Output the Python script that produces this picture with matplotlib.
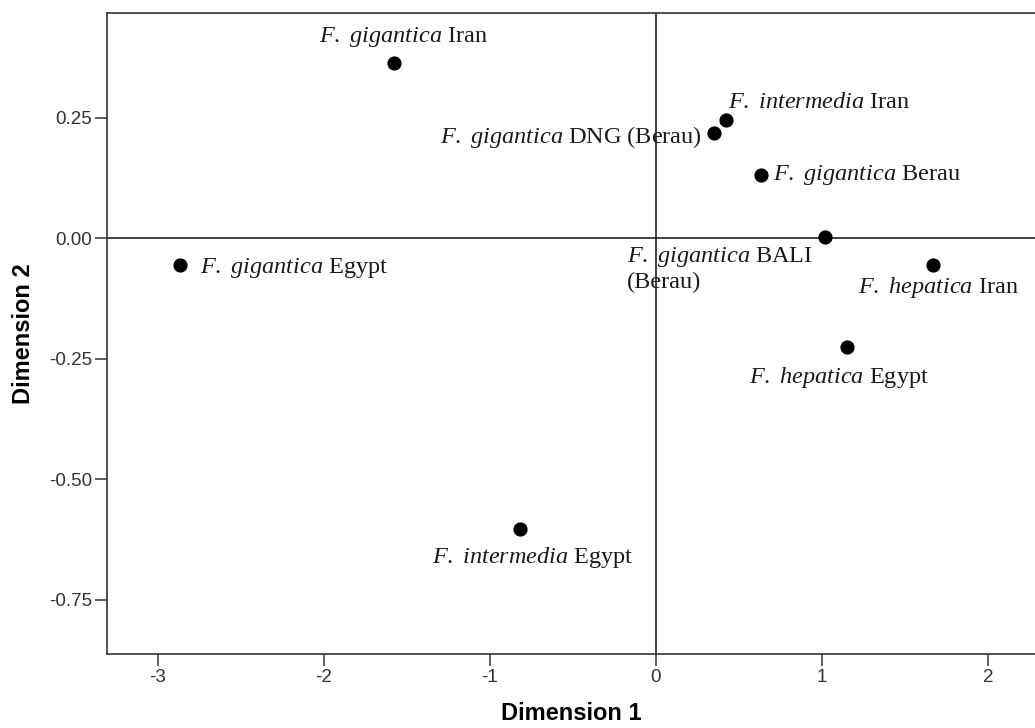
import matplotlib.pyplot as plt

plt.rcParams['mathtext.fontset'] = 'custom'
plt.rcParams['mathtext.rm'] = 'Liberation Serif'
plt.rcParams['mathtext.it'] = 'Liberation Serif:italic'

# MDS coordinates
labels = [
    r"$F.$ $gigantica$ Iran",
    r"$F.$ $intermedia$ Iran",
    r"$F.$ $gigantica$ DNG (Berau)",
    r"$F.$ $gigantica$ Berau",
    "$F.$ $gigantica$ BALI\n(Berau)",
    r"$F.$ $hepatica$ Iran",
    r"$F.$ $hepatica$ Egypt",
    r"$F.$ $gigantica$ Egypt",
    r"$F.$ $intermedia$ Egypt",
]
dim1 = [-1.58, 0.42, 0.35, 0.63, 1.02, 1.67, 1.15, -2.87, -0.82]
dim2 = [0.363, 0.245, 0.218, 0.131, 0.002, -0.056, -0.226, -0.056, -0.604]

# label placement (pixel offsets from the point, alignment)
offsets = [(10, 26), (2, 18), (-12, -4), (12, 0), (-198, -32),
           (-75, -22), (-8, -30), (20, -3), (13, -28)]
aligns = ['center', 'left', 'right', 'left', 'left',
          'left', 'center', 'left', 'center']

fig = plt.figure(figsize=(10.35, 7.28), dpi=100)
ax = fig.add_axes([0.1034, 0.1016, 0.8976, 0.8805])

ax.axhline(0, color='#222222', lw=1.2, zorder=1)
ax.axvline(0, color='#222222', lw=1.2, zorder=1)
ax.scatter(dim1, dim2, s=85, color='black', zorder=3)

for lab, x, y, off, ha in zip(labels, dim1, dim2, offsets, aligns):
    ax.annotate(lab, (x, y), xytext=off, textcoords='offset pixels',
                ha=ha, va='center', fontsize=17.5, family='Liberation Serif',
                color='#1a1a1a', multialignment='left', annotation_clip=False)

ax.set_xlim(-3.307, 2.29)
ax.set_ylim(-0.863, 0.467)
ax.set_xticks([-3, -2, -1, 0, 1, 2])
ax.set_yticks([-0.75, -0.5, -0.25, 0.0, 0.25])
ax.set_yticklabels(['-0.75', '-0.50', '-0.25', '0.00', '0.25'])
ax.set_xticklabels(['-3', '-2', '-1', '0', '1', '2'])
ax.tick_params(direction='out', length=8.5, width=1.1, color='#333333',
               labelsize=13.5, labelcolor='#333333', pad=2)
for lbl in ax.get_xticklabels() + ax.get_yticklabels():
    lbl.set_family('Liberation Sans')
for sp in ax.spines.values():
    sp.set_color('#333333')
    sp.set_linewidth(1.2)

ax.set_xlabel('Dimension 1', fontsize=17, fontweight='bold',
              family='Liberation Sans', labelpad=12)
ax.set_ylabel('Dimension 2', fontsize=17, fontweight='bold',
              family='Liberation Sans', labelpad=10)

fig.savefig('out.png', dpi=100)
